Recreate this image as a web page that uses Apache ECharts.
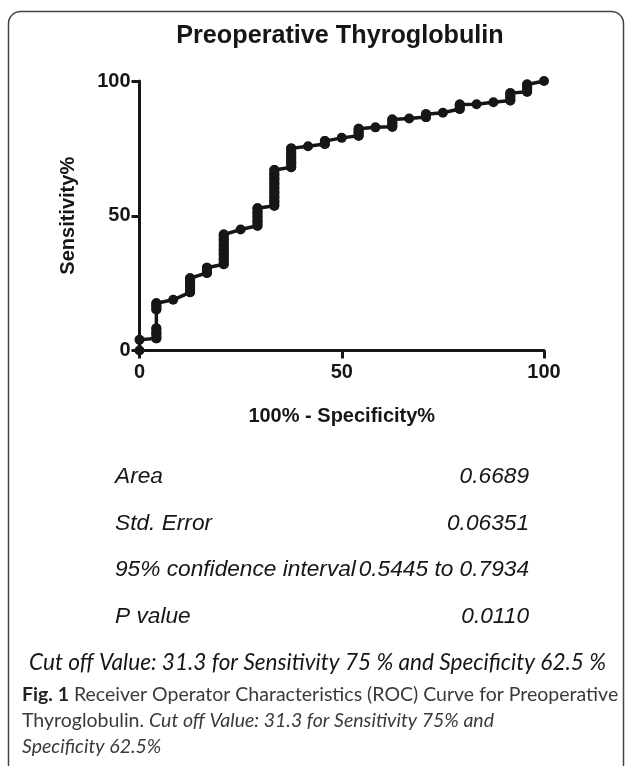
<!DOCTYPE html>
<html>
<head>
<meta charset="utf-8">
<title>ROC - Preoperative Thyroglobulin</title>
<script src="https://cdn.jsdelivr.net/npm/echarts@6/dist/echarts.min.js"></script>
<style>
html, body { margin: 0; padding: 0; background: #fff; }
#main { width: 627px; height: 766px; }
</style>
</head>
<body>
<div id="main"></div>
<script>
// ROC points: 100% - Specificity% (x) and Sensitivity% (y)
// runs of points at one x are the stacked dots that make the vertical bars
const fpr = [
  0, 0,
  4.17, 4.17, 4.17, 4.17, 4.17, 4.17,
  8.33,
  12.5, 12.5, 12.5, 12.5,
  16.67, 16.67,
  20.83, 20.83, 20.83, 20.83, 20.83, 20.83, 20.83,
  25,
  29.17, 29.17, 29.17, 29.17, 29.17,
  33.33, 33.33, 33.33, 33.33, 33.33, 33.33, 33.33, 33.33, 33.33,
  37.5, 37.5, 37.5, 37.5, 37.5,
  41.67,
  45.83, 45.83,
  50,
  54.17, 54.17, 54.17,
  58.33,
  62.5, 62.5, 62.5,
  66.67,
  70.83, 70.83,
  75,
  79.17, 79.17,
  83.33,
  87.5,
  91.67, 91.67, 91.67,
  95.83, 95.83, 95.83,
  100
];
const sens = [
  0, 4,
  4.5, 6.3, 8.2, 15.2, 16.4, 17.5,
  18.8,
  21.6, 23.3, 25, 26.8,
  28.8, 30.7,
  32, 33.8, 35.6, 37.4, 39.2, 41.1, 43,
  44.9,
  46.3, 48, 49.6, 51.2, 52.8,
  53.7, 55.4, 57, 58.7, 60.4, 62, 63.7, 65.3, 67,
  68, 69.8, 71.5, 73.3, 75,
  75.8,
  76.6, 77.7,
  78.9,
  79.7, 81, 82.3,
  82.8,
  83, 84.3, 85.7,
  86.1,
  86.6, 87.7,
  88.2,
  89.6, 91.3,
  91.4,
  92.1,
  92.8, 94.2, 95.5,
  96, 97.4, 98.7,
  100
];

const statLabels = ['Area', 'Std. Error', '95% confidence interval', 'P value'];
const statValues = ['0.6689', '0.06351', '0.5445 to 0.7934', '0.0110'];

const chartTitle = 'Preoperative Thyroglobulin';
const xName = '100% - Specificity%';
const yName = 'Sensitivity%';
const cutOffText = 'Cut off Value: 31.3 for Sensitivity 75 % and Specificity 62.5 %';

const ink = '#161616';
const axisFont = 'Liberation Sans, Arial, sans-serif';
const capFont = 'Lato, "Open Sans", sans-serif';

const points = fpr.map((x, i) => [x, sens[i]]);

// stacked dots at one x overlap into a solid bar: draw each run as one round-capped stroke
// (the run must be closer than a dot apart, else the thin line shows between)
const bars = [];
let start = 0;
for (let i = 1; i <= points.length; i++) {
  const brk = i === points.length || points[i][0] !== points[i - 1][0] ||
    points[i][1] - points[i - 1][1] > 3.5;
  if (brk) {
    if (i - 1 > start) {
      bars.push(points[start], points[i - 1], '-');
    }
    start = i;
  }
}

const chart = echarts.init(document.getElementById('main'));

// stats table rows
const statRows = [];
const rowY = [477, 523.5, 570, 616.5];
statLabels.forEach((lab, i) => {
  statRows.push({
    type: 'text', x: 115, y: rowY[i],
    style: { text: lab, font: 'italic 22.7px ' + axisFont, fill: ink, textAlign: 'left', textVerticalAlign: 'middle' }
  });
  statRows.push({
    type: 'text', x: 529, y: rowY[i],
    style: { text: statValues[i], font: 'italic 22.7px ' + axisFont, fill: ink, textAlign: 'right', textVerticalAlign: 'middle' }
  });
});

const axisCommon = {
  type: 'value',
  min: 0,
  max: 100,
  interval: 50,
  splitLine: { show: false },
  axisLine: { show: true, lineStyle: { color: ink, width: 3 } },
  axisTick: { show: true, length: 8, lineStyle: { color: ink, width: 3 } },
  nameLocation: 'middle',
  nameTextStyle: { color: ink, fontSize: 20, fontWeight: 'bold', fontFamily: axisFont }
};

chart.setOption({
  animation: false,
  backgroundColor: '#fff',
  grid: { left: 139.5, right: 83, top: 81, bottom: 415.5 },
  xAxis: Object.assign({}, axisCommon, {
    name: xName,
    nameGap: 56,
    axisLabel: { color: ink, fontSize: 20, fontWeight: 'bold', fontFamily: axisFont, margin: 12 }
  }),
  yAxis: Object.assign({}, axisCommon, {
    name: yName,
    nameGap: 61,
    axisLabel: { color: ink, fontSize: 20, fontWeight: 'bold', fontFamily: axisFont, margin: 9 }
  }),
  series: [
    {
      type: 'line',
      data: points,
      clip: false,
      symbol: 'circle',
      symbolSize: 10,
      showAllSymbol: true,
      lineStyle: { color: ink, width: 3.5 },
      itemStyle: { color: ink },
      z: 3
    },
    {
      type: 'line',
      data: bars,
      clip: false,
      connectNulls: false,
      showSymbol: false,
      lineStyle: { color: ink, width: 10, cap: 'round' },
      silent: true,
      z: 4
    }
  ],
  graphic: [
    {
      type: 'rect',
      shape: { x: 8.5, y: 11.5, width: 615, height: 770, r: 12 },
      style: { fill: 'none', stroke: '#444', lineWidth: 1.5 },
      silent: true
    },
    {
      type: 'text', x: 340, y: 36,
      style: { text: chartTitle, font: 'bold 25.2px ' + axisFont, fill: ink, textAlign: 'center', textVerticalAlign: 'middle' }
    }
  ].concat(statRows).concat([
    {
      type: 'text', x: 317.5, y: 663,
      style: { text: cutOffText, font: 'italic 22.6px ' + capFont, fill: ink, textAlign: 'center', textVerticalAlign: 'middle' }
    },
    {
      type: 'text', x: 22, y: 695,
      style: {
        text: '{b|Fig. 1} Receiver Operator Characteristics (ROC) Curve for Preoperative',
        font: '19.5px ' + capFont, fill: '#3a3a3a', textVerticalAlign: 'middle',
        rich: { b: { font: 'bold 19.5px ' + capFont, fill: '#222' } }
      }
    },
    {
      type: 'text', x: 22, y: 721,
      style: {
        text: 'Thyroglobulin. {i|Cut off Value: 31.3 for Sensitivity 75% and}',
        font: '19.5px ' + capFont, fill: '#3a3a3a', textVerticalAlign: 'middle',
        rich: { i: { font: 'italic 19.5px ' + capFont, fill: '#3a3a3a' } }
      }
    },
    {
      type: 'text', x: 22, y: 747,
      style: { text: 'Specificity 62.5%', font: 'italic 19.5px ' + capFont, fill: '#3a3a3a', textVerticalAlign: 'middle' }
    }
  ])
});
</script>
</body>
</html>
